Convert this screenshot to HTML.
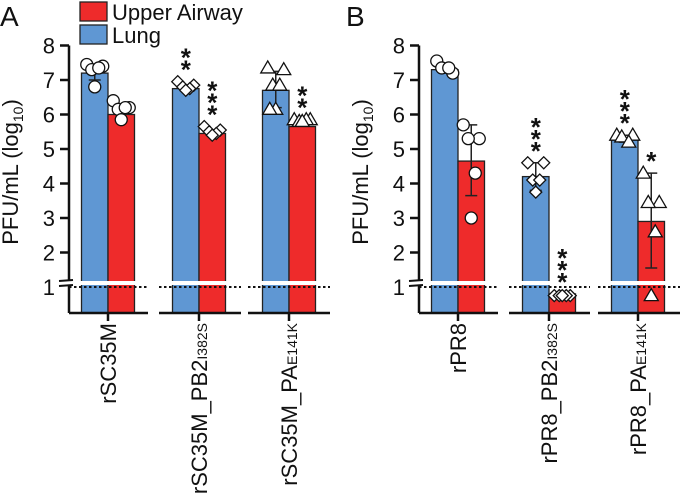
<!DOCTYPE html>
<html><head><meta charset="utf-8"><style>
html,body{margin:0;padding:0;background:#fff;}
svg{display:block;font-family:"Liberation Sans",Arial,sans-serif;}
</style></head><body>
<svg id="chart" width="680" height="500" viewBox="0 0 680 500"></svg>
<script>
// ---- data ----
const categoriesA = ["rSC35M", "rSC35M_PB2", "rSC35M_PA"];
const subsA = ["", "I382S", "E141K"];
const lungA = [7.2, 6.75, 6.7];
const upperA = [6.0, 5.45, 5.65];
const lungErrA = [[7.0, 7.35], [6.7, 6.85], [6.2, 7.25]];
const upperErrA = [[5.85, 6.2], [5.4, 5.5], [5.8, 5.85]];
const lungPtsA = [[7.45, 7.4, 7.3, 7.35, 6.8], [6.95, 6.85, 6.8, 6.75, 6.7], [7.35, 7.3, 6.85, 6.85, 6.15, 6.15]];
const upperPtsA = [[6.4, 6.2, 6.15, 6.2, 5.85], [5.65, 5.55, 5.5, 5.45, 5.4], [5.85, 5.85, 5.8, 5.85, 5.8]];
const lungStarsA = [0, 2, 0];
const upperStarsA = [0, 3, 2];

const categoriesB = ["rPR8", "rPR8_PB2", "rPR8_PA"];
const subsB = ["", "I382S", "E141K"];
const lungB = [7.3, 4.2, 5.3];
const upperB = [4.65, 0.8, 2.9];
const lungErrB = [[7.2, 7.45], [3.8, 4.6], [5.2, 5.4]];
const upperErrB = [[3.65, 5.7], [0.75, 0.8], [1.55, 4.3]];
const lungPtsB = [[7.55, 7.2, 7.35, 7.35], [4.6, 4.6, 4.1, 4.1, 3.75], [5.4, 5.4, 5.35, 5.2]];
const upperPtsB = [[5.7, 5.3, 5.3, 4.3, 3.0], [0.75, 0.75, 0.75, 0.75, 0.75], [4.3, 3.45, 3.45, 2.6, 0.75]];
const lungStarsB = [0, 3, 3];
const upperStarsB = [0, 3, 1];

const yTicks = [1, 2, 3, 4, 5, 6, 7, 8];
const markers = ["circle", "diamond", "triangle"];

// ---- drawing ----
const svg = document.getElementById('chart');
const NS = "http://www.w3.org/2000/svg";
function mk(tag, attrs, parent) {
  const e = document.createElementNS(NS, tag);
  for (const k in attrs) e.setAttribute(k, attrs[k]);
  (parent || svg).appendChild(e);
  return e;
}
const BLUE = "#5f97d3", RED = "#ee2b2b";
function yS(v) { return 287 - (v - 1) * 34.5; }
const BASE = 313;
const offs = [-8, 8, -3, 4, 0, -6, 6];

function marker(type, x, y, g) {
  let e;
  if (type === "circle") e = mk("circle", {cx: x, cy: y, r: 6, fill: "#fff", stroke: "#111", "stroke-width": 1.3}, g);
  else if (type === "diamond") e = mk("polygon", {points: `${x},${y-6} ${x+6},${y} ${x},${y+6} ${x-6},${y}`, fill: "#fff", stroke: "#111", "stroke-width": 1.3}, g);
  else e = mk("polygon", {points: `${x},${y-7} ${x+7},${y+5} ${x-7},${y+5}`, fill: "#fff", stroke: "#111", "stroke-width": 1.3}, g);
  
  
}

function panel(cfg) {
  const g = mk("g", {});
  
  
  const ax = cfg.axisX;
  const yl = mk("line", {x1: ax, y1: yS(8), x2: ax, y2: 281, stroke: "#111", "stroke-width": 2.5}, g);
  
  
  const yl2 = mk("line", {x1: ax, y1: 285, x2: ax, y2: BASE, stroke: "#111", "stroke-width": 2.5}, g);
  
  
  mk("line", {x1: ax - 10, y1: 281, x2: ax + 4, y2: 280, stroke: "#111", "stroke-width": 2}, g);
  mk("line", {x1: ax - 10, y1: 286, x2: ax + 4, y2: 285, stroke: "#111", "stroke-width": 2}, g);
  yTicks.forEach(t => {
    if (t > 1) mk("line", {x1: ax - 9, y1: yS(t), x2: ax, y2: yS(t), stroke: "#111", "stroke-width": 2.5}, g);
    const tx = mk("text", {x: ax - 14, y: yS(t) + 8, "text-anchor": "end", "font-size": 22, fill: "#111"}, g);
    tx.textContent = t;
    
    
  });
  const yt = mk("text", {x: 0, y: 0, transform: `translate(${ax - 51},${172}) rotate(-90)`, "text-anchor": "middle", "font-size": 22, fill: "#111"}, g);
  yt.innerHTML = 'PFU/mL (log<tspan font-size="14" dy="5">10</tspan><tspan dy="-5">)</tspan>';
  
  

  cfg.cats.forEach((c, i) => {
    const gx = cfg.groupX[i];
    const bw = 26.5;
    const b1 = mk("rect", {x: gx - bw, y: yS(cfg.lung[i]), width: bw, height: BASE - yS(cfg.lung[i]), fill: BLUE, stroke: "#222", "stroke-width": 1.3}, g);
    
    
    const b2 = mk("rect", {x: gx, y: yS(cfg.upper[i]), width: bw, height: BASE - yS(cfg.upper[i]), fill: RED, stroke: "#222", "stroke-width": 1.3}, g);
    
    
    mk("rect", {x: gx - bw - 2, y: 281, width: bw * 2 + 4, height: 4, fill: "#fff"}, g);
    const dl = mk("line", {x1: cfg.segs[i][0], y1: 287, x2: cfg.segs[i][1], y2: 287, stroke: "#111", "stroke-width": 2, "stroke-dasharray": "2.5,2.5"}, g);
    
    
    const bl = mk("line", {x1: cfg.segs[i][0], y1: BASE, x2: cfg.segs[i][1], y2: BASE, stroke: "#111", "stroke-width": 2.5}, g);
    
    
    mk("line", {x1: gx, y1: BASE, x2: gx, y2: BASE + 8, stroke: "#111", "stroke-width": 2.5}, g);
    [[gx - bw / 2, cfg.lungErr[i]], [gx + bw / 2, cfg.upperErr[i]]].forEach(([cx, e]) => {
      const eb = mk("path", {d: `M${cx},${yS(e[0])}V${yS(e[1])}M${cx-6},${yS(e[0])}H${cx+6}M${cx-6},${yS(e[1])}H${cx+6}`, stroke: "#222", "stroke-width": 1.5, fill: "none"}, g);
      
      
    });
    cfg.lungPts[i].forEach((v, k) => marker(markers[i], gx - bw / 2 + offs[k % offs.length], yS(v), g));
    cfg.upperPts[i].forEach((v, k) => marker(markers[i], gx + bw / 2 + offs[k % offs.length], yS(v), g));
    [[gx - bw / 2, cfg.lungStars[i], cfg.lungPts[i], cfg.lungErr[i]], [gx + bw / 2, cfg.upperStars[i], cfg.upperPts[i], cfg.upperErr[i]]].forEach(([cx, n, pts, e]) => {
      if (!n) return;
      const top = Math.min(yS(Math.max(...pts)), yS(e[1])) - 10;
      for (let s = 0; s < n; s++) {
        const st = mk("text", {x: cx, y: top - s * 12 + 7, "text-anchor": "middle", "font-size": 26, "font-weight": "bold", fill: "#111"}, g);
        st.textContent = "*";
        
        
      }
    });
    const lb = mk("text", {x: 0, y: 0, transform: `translate(${gx + 8},${323}) rotate(-90)`, "text-anchor": "end", "font-size": 22, fill: "#111"}, g);
    lb.innerHTML = c + (cfg.subs[i] ? `<tspan font-size="14">${cfg.subs[i]}</tspan>` : "");
    
    
  });
  const pl = mk("text", {x: cfg.letterX, y: 26, "font-size": 28, fill: "#111"}, g);
  pl.textContent = cfg.letter;
  
  
}

panel({name: "panel-a", letter: "A", letterX: 0, axisX: 69, groupX: [108, 199, 289],
  segs: [[69, 148], [159, 241], [248, 330]],
  cats: categoriesA, subs: subsA, lung: lungA, upper: upperA, lungErr: lungErrA, upperErr: upperErrA,
  lungPts: lungPtsA, upperPts: upperPtsA, lungStars: lungStarsA, upperStars: upperStarsA});
panel({name: "panel-b", letter: "B", letterX: 346, axisX: 419, groupX: [458, 549, 638],
  segs: [[419, 498], [509, 590], [598, 680]],
  cats: categoriesB, subs: subsB, lung: lungB, upper: upperB, lungErr: lungErrB, upperErr: upperErrB,
  lungPts: lungPtsB, upperPts: upperPtsB, lungStars: lungStarsB, upperStars: upperStarsB});

const lg = mk("g", {});


[["Upper Airway", RED, 2], ["Lung", BLUE, 25]].forEach(([t, c, y]) => {
  const r = mk("rect", {x: 80, y: y, width: 27, height: 19, fill: c, stroke: "#222", "stroke-width": 1.3}, lg);
  
  
  const tx = mk("text", {x: 112, y: y + 18, "font-size": 22, fill: "#111"}, lg);
  tx.textContent = t;
  
  
});
</script>
</body></html>
